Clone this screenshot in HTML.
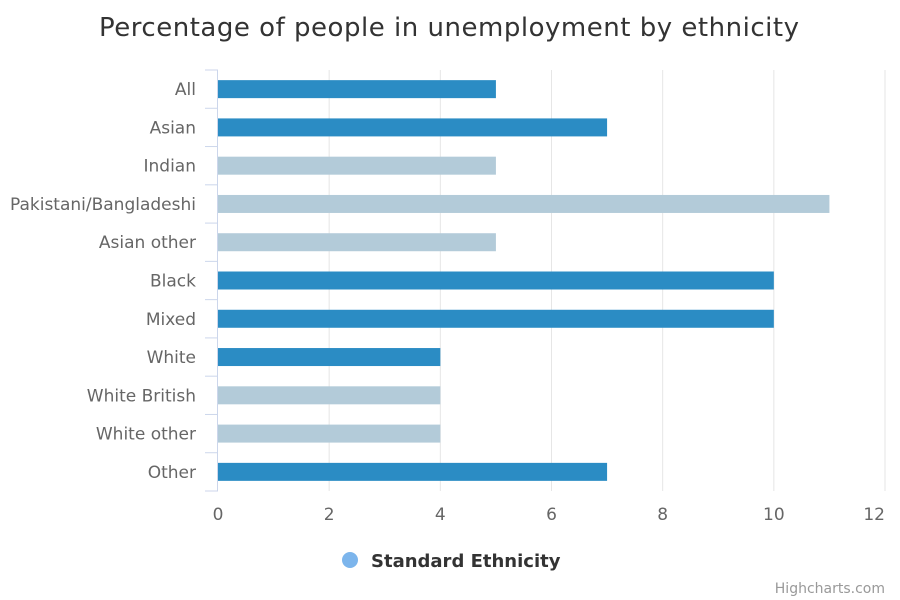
<!DOCTYPE html>
<html><head><meta charset="utf-8">
<style>
html,body{margin:0;padding:0;background:#fff;}
svg{display:block;font-family:"DejaVu Sans","Liberation Sans",sans-serif;}
</style></head>
<body>
<svg id="chart" width="900" height="600" viewBox="0 0 900 600">
<text x="449" y="36" text-anchor="middle" font-size="26" fill="#333" textLength="700">Percentage of people in unemployment by ethnicity</text>
<g id="grid"></g>
<g id="yaxis"></g>
<g id="bars"></g>
<g id="xaxis"></g>
<g>
<circle cx="350" cy="560" r="8" fill="#7cb5ec"></circle>
<text x="371" y="567" font-size="18" font-weight="bold" fill="#333">Standard Ethnicity</text>
</g>
<text x="885" y="593" text-anchor="end" font-size="14" fill="#999">Highcharts.com</text>
</svg>
<script>
const categories = ["All","Asian","Indian","Pakistani/Bangladeshi","Asian other","Black","Mixed","White","White British","White other","Other"];
const values = [5,7,5,11,5,10,10,4,4,4,7];
const isMain = [true,true,false,false,false,true,true,true,false,false,true];
const xTicks = [0,2,4,6,8,10,12];

const NS = "http://www.w3.org/2000/svg";
const x0 = 218, x1 = 885, yTop = 70, yBot = 491;
const xMax = 12;
const xs = v => x0 + (v / xMax) * (x1 - x0);
const band = (yBot - yTop) / categories.length;
const yc = i => yTop + band * (i + 0.5);
function mk(tag, attrs, parent) {
  const e = document.createElementNS(NS, tag);
  for (const k in attrs) e.setAttribute(k, attrs[k]);
  parent.appendChild(e);
  return e;
}
const grid = document.getElementById('grid');
const xaxis = document.getElementById('xaxis');
xTicks.forEach((t, j) => {
  if (t > 0) {
    const l = mk('line', {x1: xs(t), x2: xs(t), y1: yTop, y2: yBot, stroke: '#e6e6e6', 'stroke-width': 1}, grid);
    
    
  }
  const last = j === xTicks.length - 1;
  const tx = mk('text', {x: last ? xs(t) : xs(t), y: 520, 'text-anchor': last ? 'end' : 'middle', 'font-size': 17, fill: '#666'}, xaxis);
  tx.textContent = t;
  
  
});
const yaxis = document.getElementById('yaxis');
const al = mk('line', {x1: x0 - 0.5, x2: x0 - 0.5, y1: yTop, y2: yBot, stroke: '#ccd6eb', 'stroke-width': 1}, yaxis);


for (let i = 0; i <= categories.length; i++) {
  const y = yTop + band * i;
  const tk = mk('line', {x1: 205, x2: x0, y1: y, y2: y, stroke: '#ccd6eb', 'stroke-width': 1}, yaxis);
  
  
}
const bars = document.getElementById('bars');
categories.forEach((c, i) => {
  const lb = mk('text', {x: 196, y: yc(i) + 6, 'text-anchor': 'end', 'font-size': 17, fill: '#666'}, yaxis);
  lb.textContent = c;
  
  
  const r = mk('rect', {x: x0, y: yc(i) - 9, width: xs(values[i]) - x0, height: 18, fill: isMain[i] ? '#2b8cc4' : '#b3cbd9'}, bars);
  
  
});
</script>
</body></html>
